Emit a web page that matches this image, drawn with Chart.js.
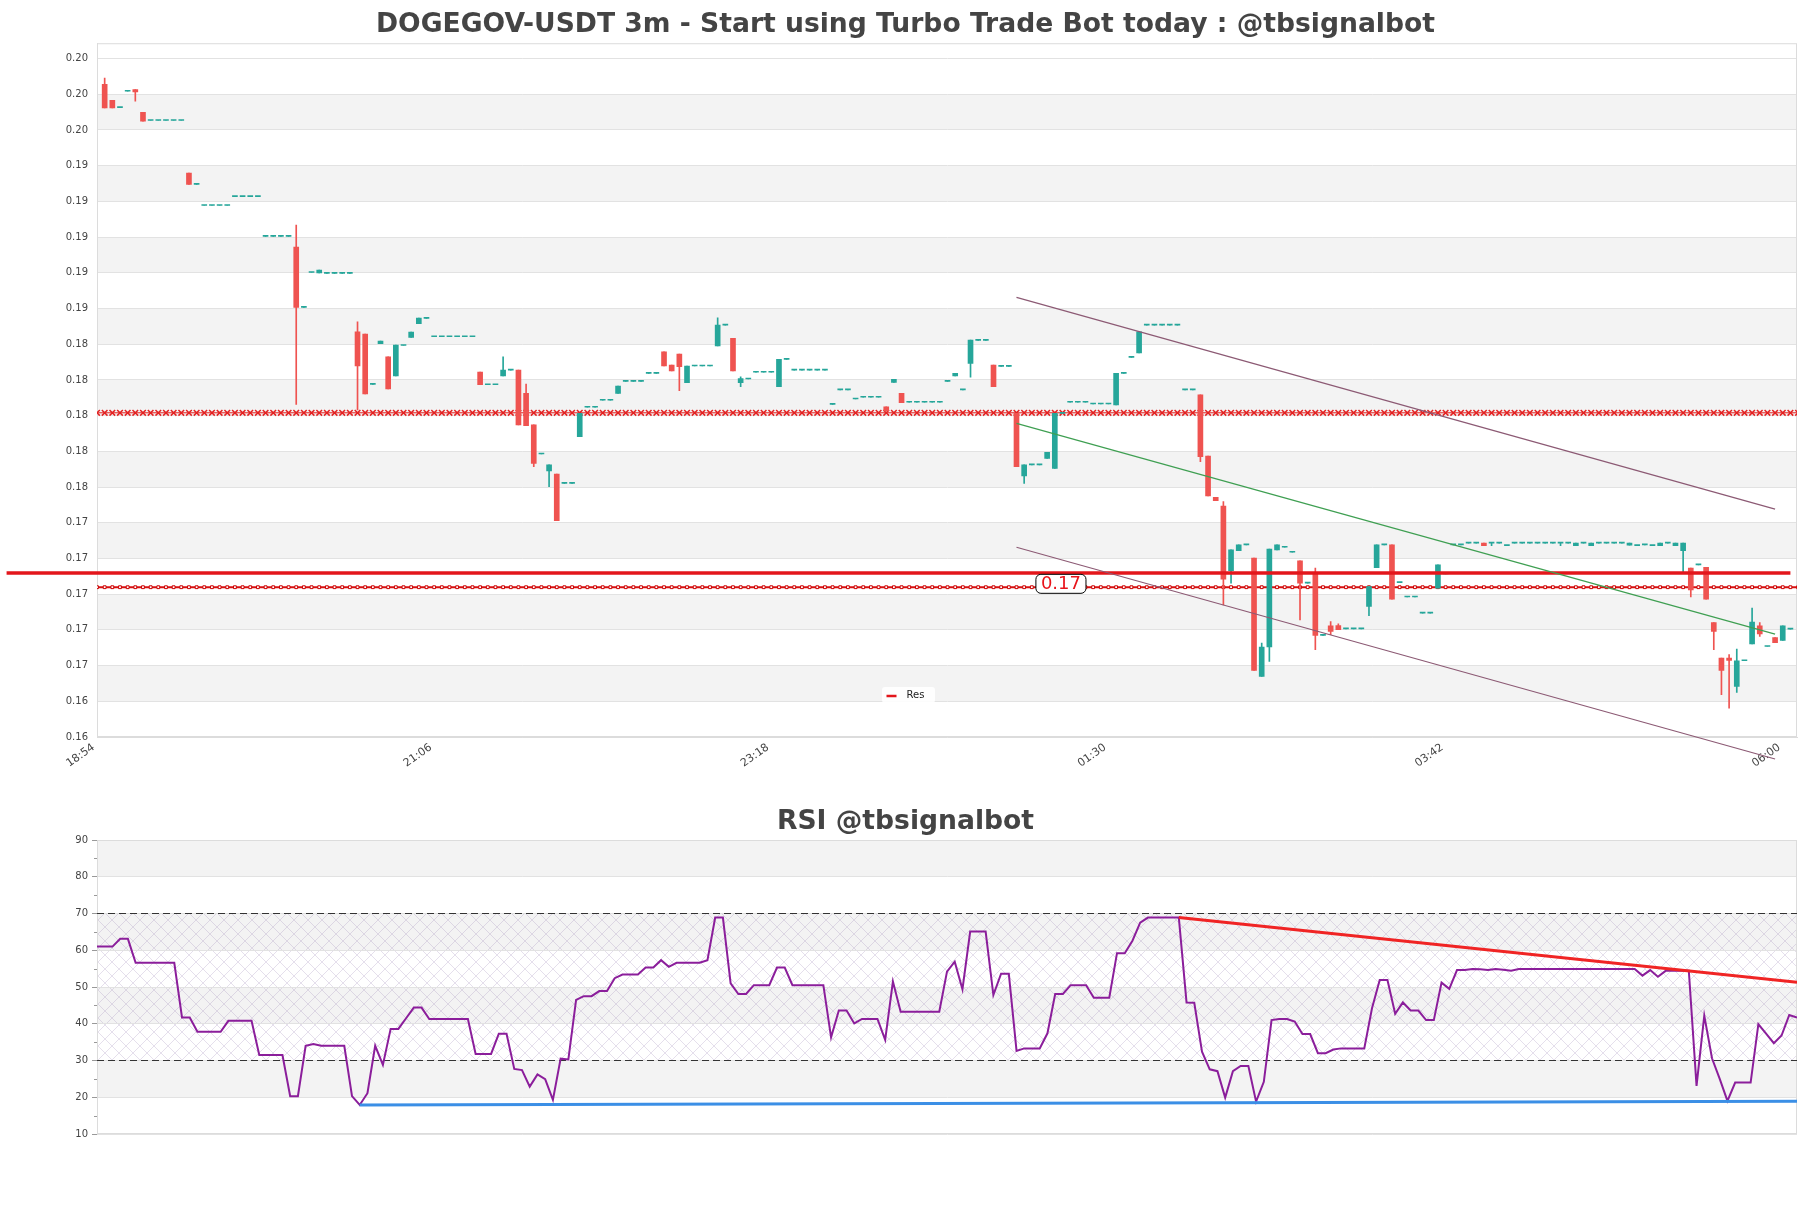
<!DOCTYPE html>
<html>
<head>
<meta charset="utf-8">
<script src="https://cdn.jsdelivr.net/npm/chart.js@4.4.1/dist/chart.umd.min.js"></script>
<style>
  html, body { margin: 0; padding: 0; background: #fff; }
  #wrap { width: 1811px; height: 1208px; position: relative; }
  #priceBox { position: absolute; left: 0; top: 0; width: 1811px; height: 780px; }
  #rsiBox { position: absolute; left: 0; top: 780px; width: 1811px; height: 428px; }
</style>
</head>
<body>
<div id="wrap">
  <div id="priceBox"><canvas id="priceChart"></canvas></div>
  <div id="rsiBox"><canvas id="rsiChart"></canvas></div>
</div>
<script>
// 3m candles, index 0 = 18:54
const timeLabels = ['18:54', '21:06', '23:18', '01:30', '03:42', '06:00'];
const timeTickIdx = [0, 44, 88, 132, 176, 220];

const priceTicks = [0.162, 0.164, 0.166, 0.168, 0.170, 0.172, 0.174, 0.176, 0.178, 0.180,
  0.182, 0.184, 0.186, 0.188, 0.190, 0.192, 0.194, 0.196, 0.198, 0.200];

const opens = [
  0.19856,0.19766,0.19725,0.19817,0.19826,0.19699,0.19653,0.19653,0.19653,0.19653,
  0.19653,0.19358,0.19295,0.19177,0.19177,0.19177,0.19177,0.19227,0.19227,0.19227,
  0.19227,0.19004,0.19004,0.19004,0.19004,0.18944,0.18606,0.18802,0.18800,0.18797,
  0.18797,0.18797,0.18797,0.18470,0.18457,0.18175,0.18403,0.18330,0.18222,0.18393,
  0.18438,0.18515,0.18545,0.18442,0.18442,0.18442,0.18442,0.18442,0.18442,0.18244,
  0.18173,0.18173,0.18222,0.18255,0.18255,0.18125,0.17948,0.17785,0.17691,0.17673,
  0.17621,0.17621,0.17882,0.18047,0.18047,0.18086,0.18086,0.18125,0.18192,0.18192,
  0.18192,0.18237,0.18237,0.18358,0.18283,0.18345,0.18184,0.18278,0.18278,0.18278,
  0.18390,0.18507,0.18433,0.18184,0.18205,0.18243,0.18243,0.18243,0.18162,0.18315,
  0.18255,0.18255,0.18255,0.18255,0.18255,0.18063,0.18144,0.18144,0.18093,0.18103,
  0.18103,0.18103,0.18050,0.18186,0.18125,0.18075,0.18075,0.18075,0.18075,0.18075,
  0.18192,0.18222,0.18144,0.18293,0.18422,0.18422,0.18283,0.18276,0.18276,0.18013,
  0.17662,0.17724,0.17724,0.17761,0.17705,0.18013,0.18075,0.18075,0.18075,0.18065,
  0.18065,0.18065,0.18060,0.18237,0.18326,0.18352,0.18507,0.18507,0.18507,0.18507,
  0.18507,0.18144,0.18144,0.18116,0.17774,0.17543,0.17494,0.17132,0.17244,0.17276,
  0.17202,0.16539,0.16704,0.17248,0.17263,0.17235,0.17187,0.17062,0.17121,0.16769,
  0.16823,0.16824,0.16806,0.16806,0.16806,0.16931,0.17149,0.17276,0.17276,0.17065,
  0.16984,0.16984,0.16894,0.16894,0.17034,0.17114,0.17276,0.17276,0.17286,0.17286,
  0.17286,0.17286,0.17286,0.17272,0.17286,0.17286,0.17286,0.17286,0.17286,0.17286,
  0.17286,0.17286,0.17272,0.17286,0.17272,0.17286,0.17286,0.17286,0.17286,0.17274,
  0.17272,0.17276,0.17272,0.17272,0.17286,0.17272,0.17244,0.17146,0.17164,0.17151,
  0.16841,0.16642,0.16642,0.16483,0.16627,0.16722,0.16823,0.16707,0.16757,0.16741,
  0.16804];

const closes = [
  0.19723,0.19723,0.19725,0.19817,0.19813,0.19650,0.19653,0.19653,0.19653,0.19653,
  0.19653,0.19295,0.19295,0.19177,0.19177,0.19177,0.19177,0.19227,0.19227,0.19227,
  0.19227,0.19004,0.19004,0.19004,0.19004,0.18606,0.18606,0.18802,0.18815,0.18797,
  0.18797,0.18797,0.18797,0.18278,0.18121,0.18175,0.18418,0.18149,0.18395,0.18393,
  0.18468,0.18546,0.18545,0.18442,0.18442,0.18442,0.18442,0.18442,0.18442,0.18173,
  0.18173,0.18173,0.18255,0.18255,0.17948,0.17944,0.17733,0.17785,0.17724,0.17412,
  0.17621,0.17621,0.18013,0.18047,0.18047,0.18086,0.18086,0.18166,0.18192,0.18192,
  0.18192,0.18237,0.18237,0.18278,0.18251,0.18274,0.18278,0.18278,0.18278,0.18278,
  0.18507,0.18507,0.18251,0.18207,0.18205,0.18243,0.18243,0.18243,0.18315,0.18315,
  0.18255,0.18255,0.18255,0.18255,0.18255,0.18063,0.18144,0.18144,0.18093,0.18103,
  0.18103,0.18103,0.18026,0.18203,0.18072,0.18075,0.18075,0.18075,0.18075,0.18075,
  0.18192,0.18237,0.18144,0.18423,0.18422,0.18422,0.18162,0.18276,0.18276,0.17714,
  0.17724,0.17724,0.17724,0.17795,0.18013,0.18013,0.18075,0.18075,0.18075,0.18065,
  0.18065,0.18065,0.18237,0.18237,0.18326,0.18470,0.18507,0.18507,0.18507,0.18507,
  0.18507,0.18144,0.18144,0.17770,0.17550,0.17524,0.17084,0.17248,0.17276,0.17276,
  0.16573,0.16704,0.17252,0.17276,0.17263,0.17235,0.17062,0.17062,0.16769,0.16769,
  0.16791,0.16801,0.16806,0.16806,0.16806,0.17043,0.17276,0.17276,0.16972,0.17065,
  0.16984,0.16984,0.16894,0.16894,0.17164,0.17114,0.17276,0.17276,0.17286,0.17286,
  0.17271,0.17286,0.17286,0.17272,0.17286,0.17286,0.17286,0.17286,0.17286,0.17286,
  0.17286,0.17286,0.17286,0.17286,0.17286,0.17286,0.17286,0.17286,0.17286,0.17286,
  0.17272,0.17276,0.17272,0.17286,0.17286,0.17286,0.17286,0.17024,0.17164,0.16972,
  0.16791,0.16573,0.16629,0.16627,0.16627,0.16844,0.16778,0.16707,0.16729,0.16823,
  0.16804];

const highs = [
  0.19891,0.19766,0.19725,0.19817,0.19826,0.19699,0.19653,0.19653,0.19653,0.19653,
  0.19653,0.19358,0.19295,0.19177,0.19177,0.19177,0.19177,0.19227,0.19227,0.19227,
  0.19227,0.19004,0.19004,0.19004,0.19004,0.19067,0.18606,0.18802,0.18815,0.18797,
  0.18797,0.18797,0.18797,0.18526,0.18457,0.18175,0.18418,0.18330,0.18395,0.18393,
  0.18468,0.18546,0.18545,0.18442,0.18442,0.18442,0.18442,0.18442,0.18442,0.18244,
  0.18173,0.18173,0.18330,0.18255,0.18255,0.18177,0.17948,0.17785,0.17724,0.17673,
  0.17621,0.17621,0.18013,0.18047,0.18047,0.18086,0.18086,0.18166,0.18192,0.18192,
  0.18192,0.18237,0.18237,0.18358,0.18283,0.18345,0.18278,0.18278,0.18278,0.18278,
  0.18548,0.18507,0.18433,0.18218,0.18205,0.18243,0.18243,0.18243,0.18315,0.18315,
  0.18255,0.18255,0.18255,0.18255,0.18255,0.18063,0.18144,0.18144,0.18093,0.18103,
  0.18103,0.18103,0.18050,0.18203,0.18125,0.18075,0.18075,0.18075,0.18075,0.18075,
  0.18192,0.18237,0.18144,0.18423,0.18422,0.18422,0.18283,0.18276,0.18276,0.18013,
  0.17724,0.17724,0.17724,0.17795,0.18013,0.18013,0.18075,0.18075,0.18075,0.18065,
  0.18065,0.18065,0.18237,0.18237,0.18326,0.18470,0.18507,0.18507,0.18507,0.18507,
  0.18507,0.18144,0.18144,0.18116,0.17774,0.17543,0.17518,0.17248,0.17276,0.17276,
  0.17202,0.16726,0.17252,0.17276,0.17263,0.17235,0.17187,0.17062,0.17146,0.16769,
  0.16847,0.16834,0.16806,0.16806,0.16806,0.17043,0.17276,0.17276,0.17276,0.17065,
  0.16984,0.16984,0.16894,0.16894,0.17164,0.17114,0.17276,0.17276,0.17286,0.17286,
  0.17286,0.17286,0.17286,0.17272,0.17286,0.17286,0.17286,0.17286,0.17286,0.17286,
  0.17286,0.17286,0.17286,0.17286,0.17286,0.17286,0.17286,0.17286,0.17286,0.17286,
  0.17272,0.17276,0.17272,0.17286,0.17286,0.17286,0.17286,0.17146,0.17164,0.17151,
  0.16841,0.16642,0.16661,0.16692,0.16627,0.16922,0.16841,0.16707,0.16757,0.16823,
  0.16804];

const lows = [
  0.19723,0.19723,0.19725,0.19817,0.19762,0.19650,0.19653,0.19653,0.19653,0.19653,
  0.19653,0.19295,0.19295,0.19177,0.19177,0.19177,0.19177,0.19227,0.19227,0.19227,
  0.19227,0.19004,0.19004,0.19004,0.19004,0.18063,0.18606,0.18802,0.18800,0.18797,
  0.18797,0.18797,0.18797,0.18032,0.18121,0.18175,0.18403,0.18149,0.18222,0.18393,
  0.18438,0.18515,0.18545,0.18442,0.18442,0.18442,0.18442,0.18442,0.18442,0.18173,
  0.18173,0.18173,0.18222,0.18255,0.17948,0.17944,0.17714,0.17785,0.17602,0.17412,
  0.17621,0.17621,0.17882,0.18047,0.18047,0.18086,0.18086,0.18125,0.18192,0.18192,
  0.18192,0.18237,0.18237,0.18278,0.18251,0.18140,0.18184,0.18278,0.18278,0.18278,
  0.18390,0.18507,0.18251,0.18162,0.18205,0.18243,0.18243,0.18243,0.18162,0.18315,
  0.18255,0.18255,0.18255,0.18255,0.18255,0.18063,0.18144,0.18144,0.18093,0.18103,
  0.18103,0.18103,0.18026,0.18186,0.18072,0.18075,0.18075,0.18075,0.18075,0.18075,
  0.18192,0.18222,0.18144,0.18215,0.18422,0.18422,0.18162,0.18276,0.18276,0.17714,
  0.17621,0.17724,0.17724,0.17761,0.17705,0.18013,0.18075,0.18075,0.18075,0.18065,
  0.18065,0.18065,0.18060,0.18237,0.18326,0.18352,0.18507,0.18507,0.18507,0.18507,
  0.18507,0.18144,0.18144,0.17742,0.17550,0.17524,0.16940,0.17062,0.17244,0.17276,
  0.16573,0.16539,0.16623,0.17248,0.17263,0.17235,0.16856,0.17062,0.16689,0.16769,
  0.16773,0.16801,0.16806,0.16806,0.16806,0.16879,0.17149,0.17276,0.16972,0.17065,
  0.16984,0.16984,0.16894,0.16894,0.17034,0.17114,0.17276,0.17276,0.17286,0.17286,
  0.17271,0.17271,0.17286,0.17272,0.17286,0.17286,0.17286,0.17286,0.17286,0.17286,
  0.17271,0.17286,0.17272,0.17286,0.17272,0.17286,0.17286,0.17286,0.17286,0.17274,
  0.17272,0.17276,0.17272,0.17272,0.17286,0.17272,0.17118,0.16984,0.17164,0.16972,
  0.16689,0.16437,0.16362,0.16450,0.16627,0.16722,0.16763,0.16707,0.16729,0.16741,
  0.16804];

// horizontal levels and trend lines (price units, candle-index units)
const chainLevel = 0.18016;
const dotLevel = 0.17039;
const resLevel = 0.17118;
const resFrom = -12.8, resTo = 220;
const tagIdx = 124.8, tagPrice = 0.17058;
const channelFrom = 119, channelTo = 218;
const channelTop = [0.18662, 0.17476];
const channelBottom = [0.17263, 0.16077];
const midTrend = [0.17957, 0.16776];

const rsiValues = [
  61.0,61.0,61.0,63.1,63.1,56.6,56.6,56.6,56.6,56.6,
  56.6,41.7,41.7,37.8,37.8,37.8,37.8,40.8,40.8,40.8,
  40.8,31.5,31.5,31.5,31.5,20.3,20.3,34.0,34.5,34.0,
  34.0,34.0,34.0,20.3,17.9,21.1,34.0,28.8,38.6,38.6,
  41.5,44.4,44.4,41.3,41.3,41.3,41.3,41.3,41.3,31.8,
  31.8,31.8,37.3,37.3,27.7,27.4,22.9,26.2,24.9,19.3,
  30.5,30.3,46.5,47.5,47.5,48.9,48.9,52.4,53.4,53.4,
  53.4,55.3,55.3,57.3,55.5,56.6,56.6,56.6,56.6,57.3,
  68.9,68.9,51.0,48.1,48.1,50.5,50.5,50.5,55.3,55.3,
  50.5,50.5,50.5,50.5,50.5,36.3,43.6,43.6,40.1,41.3,
  41.3,41.3,35.6,51.5,43.3,43.3,43.3,43.3,43.3,43.3,
  54.2,56.9,49.4,65.1,65.1,65.1,47.8,53.6,53.6,32.6,
  33.3,33.3,33.3,37.4,48.1,48.1,50.5,50.5,50.5,47.1,
  47.1,47.1,59.2,59.2,62.6,67.5,68.9,68.9,68.9,68.9,
  68.9,45.8,45.7,32.4,27.6,27.1,19.9,27.1,28.5,28.5,
  18.8,24.2,41.0,41.3,41.3,40.6,37.2,37.2,32.0,32.0,
  33.0,33.3,33.3,33.3,33.3,44.2,51.9,51.9,42.7,45.8,
  43.6,43.6,41.0,41.0,51.2,49.5,54.6,54.6,54.9,54.8,
  54.6,54.9,54.7,54.4,54.9,54.9,54.9,54.9,54.9,54.9,
  54.9,54.9,54.9,54.9,54.9,54.9,54.9,54.9,54.9,54.9,
  53.1,54.6,52.8,54.4,54.4,54.4,54.4,23.1,42.2,30.6,
  25.0,19.0,24.0,24.0,24.0,39.9,37.3,34.7,36.8,42.4,
  41.7];
const rsiTicks = [10, 20, 30, 40, 50, 60, 70, 80, 90];
const obLevel = 70, osLevel = 30;
const rsiResFrom = 140, rsiResTo = 220, rsiRes = [68.9, 51.3];
const rsiSupFrom = 34, rsiSupTo = 220, rsiSup = [17.9, 18.9];

const TEAL = '#26a69a', RED = '#ef5350';
const idx = closes.map((_, i) => i);
const candleColor = idx.map(i => closes[i] >= opens[i] ? TEAL : RED);
const levelIdx = [-1, ...idx, 221];

Chart.defaults.font.family = '"DejaVu Sans", sans-serif';
Chart.defaults.color = '#444';

// grey stripes between every other tick, optional hatch, frame
const bandPlugin = {
  id: 'bands',
  beforeDraw(chart, args, opts) {
    const { ctx, chartArea: a, scales: { y } } = chart;
    const vals = y.ticks.map(t => t.value).sort((p, q) => p - q);
    ctx.save();
    ctx.fillStyle = '#fff';
    ctx.fillRect(a.left, a.top, a.width, a.height);
    ctx.fillStyle = '#f3f3f3';
    for (let k = 1; k < vals.length - 1; k += 2) {
      const top = y.getPixelForValue(vals[k + 1]), bot = y.getPixelForValue(vals[k]);
      ctx.fillRect(a.left, top, a.width, bot - top);
    }
    if (opts.hatch) {
      const tile = document.createElement('canvas');
      tile.width = 14; tile.height = 14;
      const t = tile.getContext('2d');
      t.strokeStyle = 'rgba(160,140,185,0.35)';
      t.lineWidth = 0.8;
      t.beginPath();
      t.moveTo(0, 0); t.lineTo(14, 14);
      t.moveTo(14, 0); t.lineTo(0, 14);
      t.stroke();
      ctx.fillStyle = ctx.createPattern(tile, 'repeat');
      const top = y.getPixelForValue(obLevel), bot = y.getPixelForValue(osLevel);
      ctx.fillRect(a.left, top, a.width, bot - top);
    }
    ctx.restore();
  },
  beforeDatasetsDraw(chart) {
    const { ctx, chartArea: a } = chart;
    ctx.save();
    ctx.strokeStyle = '#dcdcdc';
    ctx.lineWidth = 1;
    ctx.strokeRect(a.left + 0.5, a.top + 0.5, a.width - 1, a.height - 1);
    ctx.restore();
  },
  afterDraw(chart, args, opts) {
    if (!opts.minor) return;
    const { ctx, chartArea: a, scales: { y } } = chart;
    ctx.save();
    ctx.strokeStyle = '#999';
    ctx.lineWidth = 1;
    for (let v = y.min + opts.minor; v < y.max; v += 2 * opts.minor) {
      const py = Math.round(y.getPixelForValue(v)) + 0.5;
      ctx.beginPath();
      ctx.moveTo(a.left - 3, py);
      ctx.lineTo(a.left, py);
      ctx.stroke();
    }
    ctx.restore();
  }
};
Chart.register(bandPlugin);

// value tag on the level line and the "Res" legend inside the plot
const tagPlugin = {
  id: 'tag',
  afterDatasetsDraw(chart) {
    const { ctx, chartArea: a, scales: { x, y } } = chart;
    ctx.save();
    const cx = x.getPixelForValue(tagIdx), cy = y.getPixelForValue(tagPrice);
    const text = dotLevel.toFixed(2);
    ctx.font = '18px "DejaVu Sans"';
    const w = ctx.measureText(text).width + 10, h = 19;
    ctx.beginPath();
    ctx.roundRect(cx - w / 2, cy - h / 2, w, h, 5);
    ctx.fillStyle = '#fff';
    ctx.fill();
    ctx.strokeStyle = '#000';
    ctx.lineWidth = 1;
    ctx.stroke();
    ctx.fillStyle = '#e8141b';
    ctx.textAlign = 'center';
    ctx.textBaseline = 'middle';
    ctx.fillText(text, cx, cy + 1);

    // legend
    const lx = chart.width / 2 + 3, ly = a.bottom - 42;
    ctx.font = '10px "DejaVu Sans"';
    const lw = 53, lh = 16;
    ctx.beginPath();
    ctx.roundRect(lx - lw / 2, ly - lh / 2, lw, lh, 3);
    ctx.fillStyle = 'rgba(255,255,255,0.9)';
    ctx.fill();
    ctx.strokeStyle = '#e3161b';
    ctx.lineWidth = 2.5;
    ctx.beginPath();
    ctx.moveTo(lx - 22, ly + 1);
    ctx.lineTo(lx - 12, ly + 1);
    ctx.stroke();
    ctx.fillStyle = '#222';
    ctx.textAlign = 'left';
    ctx.fillText('Res', lx - 2, ly);
    ctx.restore();
  }
};

const seg = (from, to, ends) => [{ x: from, y: ends[0] }, { x: to, y: ends[1] }];

new Chart(document.getElementById('priceChart'), {
  type: 'bar',
  data: {
    datasets: [
      { type: 'line', label: 'channel top', data: seg(channelFrom, channelTo, channelTop),
        borderColor: '#8c5a74', borderWidth: 1.2, pointRadius: 0, clip: false, order: 0 },
      { type: 'line', label: 'channel bottom', data: seg(channelFrom, channelTo, channelBottom),
        borderColor: '#8c5a74', borderWidth: 1.2, pointRadius: 0, clip: false, order: 0 },
      { type: 'line', label: 'trend', data: seg(channelFrom, channelTo, midTrend),
        borderColor: '#3f9f52', borderWidth: 1.2, pointRadius: 0, clip: false, order: 0 },
      { type: 'line', label: 'Res', data: seg(resFrom, resTo, [resLevel, resLevel]),
        borderColor: '#e3161b', borderWidth: 3.5, pointRadius: 0, clip: false, order: 1 },
      { label: 'body', data: idx.map(i => ({ x: i, y: [opens[i], closes[i]] })),
        backgroundColor: candleColor, barThickness: 5, minBarLength: 1, grouped: false, order: 2 },
      { label: 'wick', data: idx.map(i => ({ x: i, y: [lows[i], highs[i]] })),
        backgroundColor: candleColor, barThickness: 1, grouped: false, order: 3 },
      { type: 'line', label: 'level 1', data: levelIdx.map(i => ({ x: i, y: chainLevel })),
        borderColor: '#e32222', borderWidth: 1, pointStyle: 'crossRot', pointRadius: 4,
        pointBorderColor: '#e32222', pointBorderWidth: 1.5, clip: 0, order: 4 },
      { type: 'line', label: 'level 2', data: levelIdx.map(i => ({ x: i, y: dotLevel })),
        borderColor: '#d81010', borderWidth: 2, pointStyle: 'rect', pointRadius: 2,
        pointBackgroundColor: '#fff', pointBorderColor: '#c00', pointBorderWidth: 1, clip: 0, order: 4 }
    ]
  },
  options: {
    responsive: true,
    maintainAspectRatio: false,
    animation: false,
    events: [],
    layout: { padding: { left: 14, right: 14, top: 0, bottom: 0 } },
    plugins: {
      legend: { display: false },
      tooltip: { enabled: false },
      title: {
        display: true,
        text: 'DOGEGOV-USDT 3m - Start using Turbo Trade Bot today : @tbsignalbot',
        color: '#444',
        font: { size: 26.6, weight: 'bold' },
        padding: { top: 9.5, bottom: 1.8 }
      },
      bands: { hatch: false }
    },
    scales: {
      x: {
        type: 'linear', min: -1, max: 220.86, offset: false,
        grid: { display: false },
        border: { display: true, color: '#dcdcdc' },
        afterBuildTicks: s => { s.ticks = timeTickIdx.map(v => ({ value: v })); },
        afterFit: s => { s.height = 43; },
        ticks: {
          autoSkip: false, maxRotation: 35, minRotation: 35, padding: -4, labelOffset: -11,
          font: { size: 11 }, color: '#444',
          callback: (v, i) => timeLabels[i]
        }
      },
      y: {
        type: 'linear', min: 0.162, max: 0.20086,
        grid: { color: '#e2e2e2', drawTicks: false },
        border: { display: true, color: '#dcdcdc' },
        afterBuildTicks: s => { s.ticks = priceTicks.map(v => ({ value: v })); },
        afterFit: s => { s.width = 83; },
        ticks: { padding: 9, font: { size: 10 }, color: '#444', callback: v => v.toFixed(2) }
      }
    }
  },
  plugins: [tagPlugin]
});

new Chart(document.getElementById('rsiChart'), {
  type: 'line',
  data: {
    datasets: [
      { label: 'RSI res', data: seg(rsiResFrom, rsiResTo, rsiRes),
        borderColor: '#f02424', borderWidth: 3, pointRadius: 0, order: 0 },
      { label: 'RSI sup', data: seg(rsiSupFrom, rsiSupTo, rsiSup),
        borderColor: '#3b8fe6', borderWidth: 3, pointRadius: 0, order: 1 },
      { label: 'RSI', data: idx.map(i => ({ x: i, y: rsiValues[i] })),
        borderColor: '#8b1e9b', borderWidth: 2, pointRadius: 0, order: 2 },
      { label: 'overbought', data: seg(0, 220, [obLevel, obLevel]),
        borderColor: '#333', borderWidth: 1.2, borderDash: [7, 4], pointRadius: 0, order: 3 },
      { label: 'oversold', data: seg(0, 220, [osLevel, osLevel]),
        borderColor: '#333', borderWidth: 1.2, borderDash: [7, 4], pointRadius: 0, order: 3 }
    ]
  },
  options: {
    responsive: true,
    maintainAspectRatio: false,
    animation: false,
    events: [],
    layout: { padding: { left: 14, right: 14, top: 0, bottom: 74 } },
    plugins: {
      legend: { display: false },
      tooltip: { enabled: false },
      title: {
        display: true,
        text: 'RSI @tbsignalbot',
        color: '#444',
        font: { size: 26.6, weight: 'bold' },
        padding: { top: 26.2, bottom: 1.9 }
      },
      bands: { hatch: true, minor: 5 }
    },
    scales: {
      x: { type: 'linear', min: 0, max: 220, display: false },
      y: {
        type: 'linear', min: 10, max: 90,
        grid: { color: '#e2e2e2', tickLength: 5, tickColor: '#999' },
        border: { display: true, color: '#dcdcdc' },
        afterBuildTicks: s => { s.ticks = rsiTicks.map(v => ({ value: v })); },
        afterFit: s => { s.width = 83; },
        ticks: { padding: 4, font: { size: 10 }, color: '#444' }
      }
    }
  }
});
</script>
</body>
</html>
